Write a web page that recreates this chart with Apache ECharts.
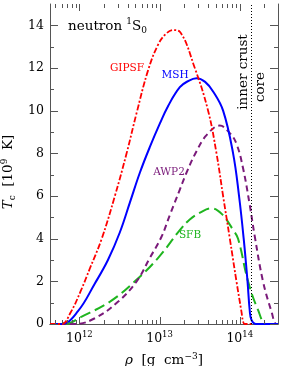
<!DOCTYPE html>
<html><head><meta charset="utf-8">
<script src="https://cdn.jsdelivr.net/npm/echarts@6/dist/echarts.min.js"></script>
<style>html,body{margin:0;padding:0;background:#fff}#c{width:281px;height:366px}</style>
</head><body><div id="c"></div>
<script>
// ---- axis ranges & ticks ----
const rhoMin = 4.3e11, rhoMax = 3.0e14;
const tcMin = 0, tcMax = 15;
const xMajorTicks = [1e12, 1e13, 1e14];
const xMinorTicks = [5e11, 6e11, 7e11, 8e11, 9e11,
  2e12, 3e12, 4e12, 5e12, 6e12, 7e12, 8e12, 9e12,
  2e13, 3e13, 4e13, 5e13, 6e13, 7e13, 8e13, 9e13,
  2e14];
const yMajorTicks = [0, 2, 4, 6, 8, 10, 12, 14];
const yMinorTicks = [1, 3, 5, 7, 9, 11, 13];
const crustCoreRho = 1.4e14;

// ---- series data: density rho [g cm^-3], Tc [1e9 K] ----
const gipsfRho = [4.3e11, 6.0e11, 7.8e11, 1.04e12, 1.35e12, 1.9e12, 2.77e12, 3.88e12, 5.18e12, 7.2e12, 9.6e12, 1.2e13, 1.48e13, 1.79e13, 2.75e13, 4.03e13, 5.13e13, 6.2e13, 7.52e13, 9.1e13, 1.05e14, 1.1e14, 1.15e14, 1.4e14];
const gipsfTc  = [0, 0, 0.55, 1.55, 2.6, 4.0, 6.0, 8.0, 9.9, 11.9, 13.1, 13.6, 13.78, 13.7, 12.0, 10.0, 8.0, 6.0, 4.0, 2.0, 0.58, 0.12, 0, 0];

const mshRho = [4.3e11, 6.0e11, 9.6e11, 1.56e12, 2.27e12, 3.2e12, 4.27e12, 5.69e12, 7.57e12, 1.01e13, 1.27e13, 1.79e13, 2.3e13, 2.89e13, 3.7e13, 4.65e13, 6.2e13, 8.26e13, 9.8e13, 1.12e14, 1.25e14, 1.33e14, 1.4e14, 1.58e14, 3.0e14];
const mshTc  = [0, 0, 0.6, 1.9, 3.0, 4.3, 5.7, 7.1, 8.3, 9.4, 10.2, 11.1, 11.4, 11.52, 11.35, 10.9, 10.0, 8.0, 6.0, 4.0, 2.0, 0.66, 0.19, 0, 0];

const awp2Rho = [4.3e11, 8.8e11, 1.56e12, 3.05e12, 5.18e12, 7.57e12, 1.06e13, 1.34e13, 1.79e13, 2.17e13, 2.89e13, 3.85e13, 5.64e13, 7.52e13, 9.1e13, 1.1e14, 1.33e14, 1.54e14, 1.95e14, 2.48e14, 2.86e14, 3.0e14];
const awp2Tc  = [0, 0, 0.27, 1.05, 2.0, 3.1, 4.1, 5.1, 6.3, 7.1, 8.1, 8.85, 9.3, 8.95, 8.45, 7.3, 5.6, 4.1, 2.0, 0.6, 0, 0];

const sfbRho = [4.3e11, 6.6e11, 1.07e12, 2.41e12, 4.92e12, 9.61e12, 1.79e13, 2.38e13, 3.2e13, 4.45e13, 6.0e13, 8.26e13, 9.53e13, 1.27e14, 1.69e14, 2.15e14, 3.0e14];
const sfbTc  = [0, 0, 0.35, 1.05, 2.0, 3.1, 4.4, 4.9, 5.22, 5.42, 5.15, 4.41, 4.0, 2.0, 0.66, 0, 0];

function zip(a, b) { return a.map((v, i) => [v, b[i]]); }

const serif = '"DejaVu Serif", "Liberation Serif", serif';
const frameColor = '#555';

const xAxes = [
  { type: 'log', logBase: 10, position: 'bottom', min: rhoMin, max: rhoMax,
    axisLine: { show: true, lineStyle: { color: frameColor, width: 1 } },
    axisTick: { show: false }, minorTick: { show: false }, splitLine: { show: false },
    axisLabel: {
      show: true, customValues: xMajorTicks, margin: 6, color: '#000',
      fontFamily: serif, fontSize: 12.5, lineHeight: 17,
      formatter: v => '10{sup|' + Math.round(Math.log10(v)) + '}',
      rich: { sup: { fontSize: 8.5, lineHeight: 10, verticalAlign: 'top', fontFamily: serif, color: '#000' } }
    },
    name: '{it|ρ}  [g  cm{sup|−3}]', nameLocation: 'middle', nameGap: 25,
    nameTextStyle: { fontFamily: serif, fontSize: 13.5, color: '#000', lineHeight: 17,
      rich: { it: { fontStyle: 'italic', fontFamily: serif, fontSize: 13.5, color: '#000' },
              sup: { fontSize: 9, lineHeight: 10, verticalAlign: 'top', fontFamily: serif, color: '#000' } } }
  },
  { type: 'log', logBase: 10, position: 'top', min: rhoMin, max: rhoMax,
    axisLine: { show: true, lineStyle: { color: frameColor, width: 1 } },
    axisTick: { show: false }, minorTick: { show: false }, splitLine: { show: false }, axisLabel: { show: false } }
];
const yAxes = [
  { type: 'value', position: 'left', min: tcMin, max: tcMax,
    axisLine: { show: true, lineStyle: { color: frameColor, width: 1 } },
    axisTick: { show: false }, minorTick: { show: false }, splitLine: { show: false },
    axisLabel: { show: true, customValues: yMajorTicks, margin: 6, color: '#000', fontFamily: serif, fontSize: 12.5 },
    name: '{it|T}{sub|c}  [10{sup|9}  K]', nameLocation: 'middle', nameGap: 31,
    nameTextStyle: { fontFamily: serif, fontSize: 13.5, color: '#000', padding: [0, 16, 0, 0], lineHeight: 17,
      rich: { it: { fontStyle: 'italic', fontFamily: serif, fontSize: 13.5, color: '#000' },
              sub: { fontSize: 9, lineHeight: 10, verticalAlign: 'bottom', fontFamily: serif, color: '#000' },
              sup: { fontSize: 9, lineHeight: 10, verticalAlign: 'top', fontFamily: serif, color: '#000' } } }
  },
  { type: 'value', position: 'right', min: tcMin, max: tcMax,
    axisLine: { show: true, lineStyle: { color: frameColor, width: 1 } },
    axisTick: { show: false }, minorTick: { show: false }, splitLine: { show: false }, axisLabel: { show: false } }
];

// inward tick marks on all four sides, placed through the axes' scales
function tickSeries(dim, values, len) {
  return {
    type: 'custom', silent: true, clip: false, z: 6, xAxisIndex: 0, yAxisIndex: 0,
    data: values.map(v => dim === 'x' ? [v, tcMin] : [rhoMin, v]),
    encode: { x: 0, y: 1 },
    renderItem: (params, api) => {
      const v = api.value(dim === 'x' ? 0 : 1);
      const p0 = api.coord(dim === 'x' ? [v, tcMin] : [rhoMin, v]);
      const p1 = api.coord(dim === 'x' ? [v, tcMax] : [rhoMax, v]);
      const style = { stroke: frameColor, lineWidth: 1 };
      if (dim === 'x') {
        const x = Math.round(p0[0]) + 0.5;
        return { type: 'group', children: [
          { type: 'line', shape: { x1: x, y1: p0[1], x2: x, y2: p0[1] - len }, style },
          { type: 'line', shape: { x1: x, y1: p1[1], x2: x, y2: p1[1] + len }, style } ] };
      }
      const y = Math.round(p0[1]) + 0.5;
      return { type: 'group', children: [
        { type: 'line', shape: { x1: p0[0], y1: y, x2: p0[0] + len, y2: y }, style },
        { type: 'line', shape: { x1: p1[0], y1: y, x2: p1[0] - len, y2: y }, style } ] };
    }
  };
}

function lineSeries(name, rho, tc, color, dash, width) {
  return {
    name, type: 'line', data: zip(rho, tc), symbol: 'none', showSymbol: false,
    smooth: 0.4, lineStyle: { color, width, type: dash }, z: 3
  };
}

const series = [
  lineSeries('SFB', sfbRho, sfbTc, '#1fb51f', [11, 5], 2),
  lineSeries('AWP2', awp2Rho, awp2Tc, '#7a1a7a', [6, 4], 2),
  lineSeries('MSH', mshRho, mshTc, '#0000ff', 'solid', 2),
  lineSeries('GIPSF', gipsfRho, gipsfTc, '#ff0000', [6, 2, 2, 2], 1.8),
  tickSeries('x', xMajorTicks, 7),
  tickSeries('x', xMinorTicks, 4),
  tickSeries('y', yMajorTicks, 8),
  tickSeries('y', yMinorTicks, 4)
];
series[2].markLine = {
  silent: true, symbol: 'none', animation: false, label: { show: false },
  lineStyle: { color: '#000', width: 1, type: [1, 2] },
  data: [{ xAxis: crustCoreRho }]
};

const chart = echarts.init(document.getElementById('c'), null, { renderer: 'canvas' });
chart.setOption({
  animation: false,
  backgroundColor: '#fff',
  grid: { left: 50, right: 3, top: 4, bottom: 42, containLabel: false, outerBoundsMode: 'none' },
  xAxis: xAxes,
  yAxis: yAxes,
  series,
  graphic: [
    { type: 'text', left: 68, top: 17, z: 10, style: { text: 'neutron {sup|1}S{sub|0}', fontFamily: serif, fontSize: 13.5, fill: '#000', lineHeight: 18,
      rich: { sup: { fontSize: 9, lineHeight: 10, verticalAlign: 'top', fontFamily: serif }, sub: { fontSize: 9, lineHeight: 10, verticalAlign: 'bottom', fontFamily: serif } } } },
    { type: 'text', x: 127, y: 68, z: 10, style: { text: 'GIPSF', fontFamily: serif, fontSize: 10.5, fill: '#ff0000', align: 'center', verticalAlign: 'middle' } },
    { type: 'text', x: 175, y: 75, z: 10, style: { text: 'MSH', fontFamily: serif, fontSize: 10.5, fill: '#0000ff', align: 'center', verticalAlign: 'middle' } },
    { type: 'text', x: 169, y: 172, z: 10, style: { text: 'AWP2', fontFamily: serif, fontSize: 10.5, fill: '#7a1a7a', align: 'center', verticalAlign: 'middle' } },
    { type: 'text', x: 190, y: 235, z: 10, style: { text: 'SFB', fontFamily: serif, fontSize: 10.5, fill: '#1fb51f', align: 'center', verticalAlign: 'middle' } },
    { type: 'text', x: 243, y: 72, rotation: Math.PI / 2, z: 10, style: { text: 'inner crust', fontFamily: serif, fontSize: 13.5, fill: '#000', align: 'center', verticalAlign: 'middle' } },
    { type: 'text', x: 260, y: 87, rotation: Math.PI / 2, z: 10, style: { text: 'core', fontFamily: serif, fontSize: 13.5, fill: '#000', align: 'center', verticalAlign: 'middle' } }
  ]
});
</script>
</body></html>
